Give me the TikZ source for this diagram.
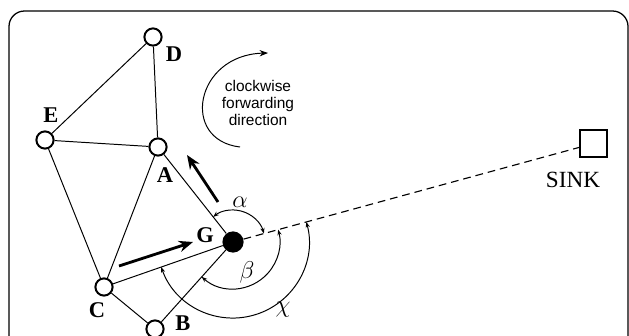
\documentclass[tikz,border=0pt]{standalone}
\usepackage{fontspec}
\setmainfont{Liberation Serif}
\setsansfont{Liberation Sans}
\usetikzlibrary{arrows.meta,angles}

\begin{document}
\begin{tikzpicture}[x=0.025cm,y=0.025cm,
    sensor/.style={circle,draw,line width=1.4pt,fill=white,minimum size=0.43cm,inner sep=0pt},
    tag/.style={font=\fontsize{16}{16}\selectfont\bfseries,inner sep=0pt},
    greek/.style={font=\fontsize{16}{16}\selectfont,inner sep=0pt},
    link/.style={line width=0.7pt},
    anglemark/.style={draw,line width=0.7pt,{Stealth[length=4pt,width=3pt]}-{Stealth[length=4pt,width=3pt]}},
    fwd/.style={line width=2pt,-{Stealth[length=10pt,width=8pt]}}]
\useasboundingbox (0,0) rectangle (629,335);

% frame
\draw[line width=0.9pt,rounded corners=11pt] (9,-20) -- (9,324) -- (628,324) -- (628,-20);

% sensors
\node[sensor] (D) at (153,298) {};
\node[sensor] (E) at (45,195) {};
\node[sensor] (A) at (158,188) {};
\node[sensor] (C) at (104,48) {};
\node[sensor] (B) at (155,6) {};
\node[circle,fill,minimum size=0.53cm,inner sep=0pt] (G) at (233,93) {};
\node[draw,line width=1.4pt,minimum size=0.66cm,inner sep=0pt] (S) at (593.5,191.5) {};

% links
\draw[link] (D) -- (E) (D) -- (A) (E) -- (A) (E) -- (C) (A) -- (C)
    (C) -- (G) (C) -- (B) (B) -- (G) (A) -- (G);
\draw[dash pattern=on 5.5pt off 3.5pt,line width=0.8pt] (G) -- (S);

% labels
\node[tag] (lD) at (174,281) {D};
\node[tag] (lE) at (51,220) {E};
\node[tag] (lA) at (165,160) {A};
\node[tag] (lG) at (205,100) {G};
\node[tag] (lC) at (97,25) {C};
\node[tag] (lB) at (183,12) {B};
\node[font=\fontsize{16.5}{16.5}\selectfont,inner sep=0pt] (lS) at (573,155) {SINK};

% angles to the sink
\pic[anglemark,angle radius=0.8cm] {angle=S--G--A};
\pic[anglemark,angle radius=1.17cm] {angle=B--G--S};
\pic[anglemark,angle radius=1.9cm] {angle=C--G--S};
\node[greek] (la) at (240,133) {$\alpha$};
\node[greek] (lb) at (247,63) {$\beta$};
\node[greek] (lc) at (283,25) {$\chi$};

% forwarding arrows
\coordinate (f1) at (218,133);
\coordinate (f2) at (187,180);
\coordinate (f3) at (119,69);
\coordinate (f4) at (193,93);
\draw[fwd] (f1) -- (f2);
\draw[fwd] (f3) -- (f4);

% direction hint
\coordinate (cw1) at (240,188);
\coordinate (cw2) at (268,282);
\draw[line width=0.7pt,-{Stealth[length=6pt,width=4.5pt]}] (cw1) .. controls (180,195) and (195,280) .. (cw2);
\node[font=\sffamily\fontsize{11}{12}\selectfont,align=center] (cw) at (258,232) {clockwise\\forwarding\\direction};

\end{tikzpicture}
\end{document}
